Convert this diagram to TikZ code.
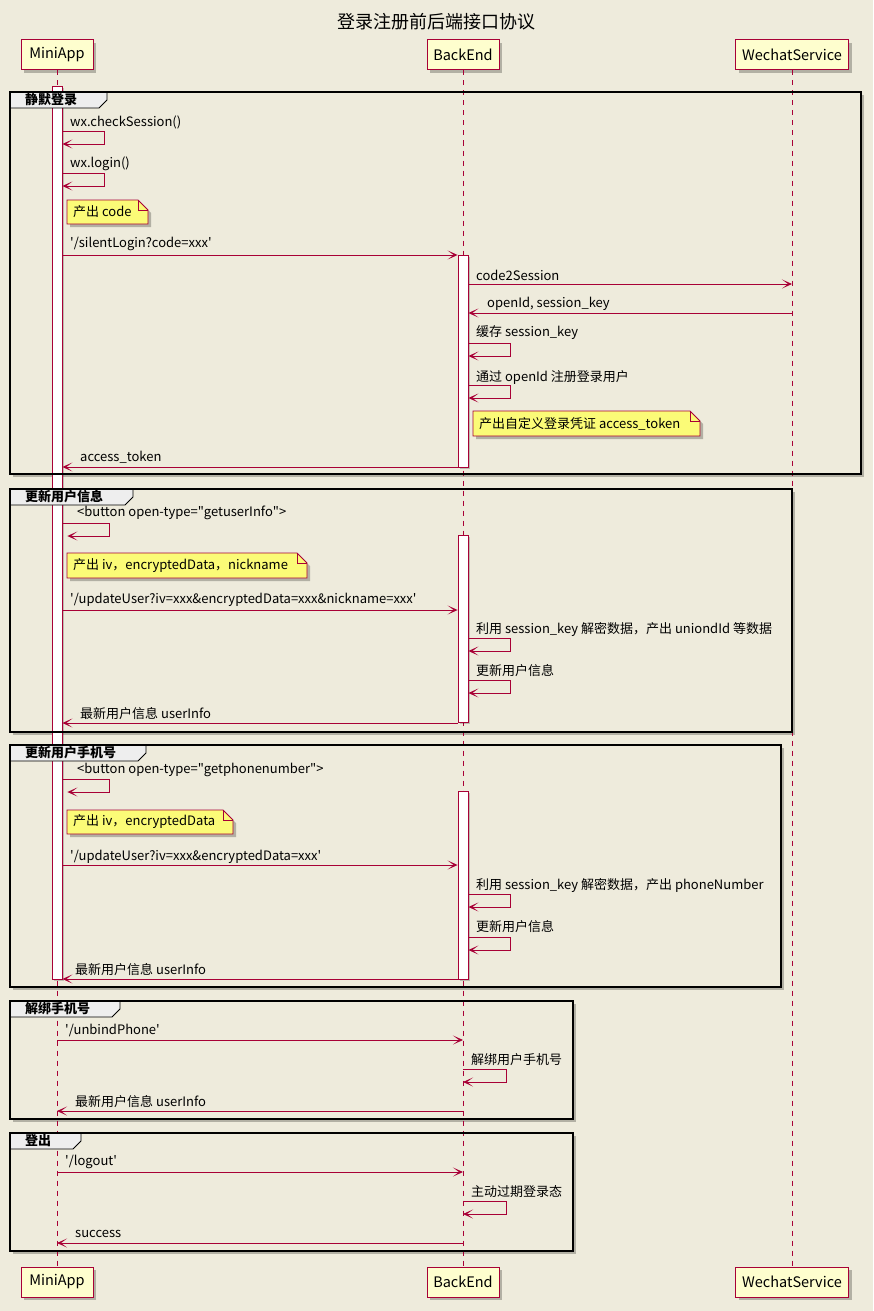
\documentclass[tikz,border=0pt]{standalone}
\usepackage{fontspec}
\setmainfont{Noto Sans CJK SC}
\usetikzlibrary{arrows.meta,shadows,positioning}

\definecolor{umlred}{HTML}{A80036}
\definecolor{partfill}{HTML}{FEFECE}
\definecolor{notefill}{HTML}{FBFB77}
\definecolor{bgcol}{HTML}{EEEBDC}
\definecolor{grphead}{HTML}{EEEEEE}

\newcommand{\msgsize}{\fontsize{13}{15}\selectfont}
\newcommand{\sq}{\textquotesingle}
\newcommand{\dq}{\textquotedbl}

\tikzset{
  participant/.style={draw=umlred, fill=partfill, line width=1pt, minimum height=30pt,
    inner xsep=6pt, font=\fontsize{14.5}{17}\selectfont,
    drop shadow={shadow xshift=3pt, shadow yshift=-3pt, opacity=0.25, fill=black}},
  lifeline/.style={umlred, line width=0.8pt, dash pattern=on 5pt off 5pt},
  actbar/.style={draw=umlred, fill=white, line width=0.8pt, minimum width=10pt, inner sep=0pt,
    drop shadow={shadow xshift=2pt, shadow yshift=-2pt, opacity=0.2, fill=black}},
  msg/.style={umlred, line width=0.9pt, -{Stealth[length=10pt,width=9pt,inset=6pt]}},
  lbl/.style={anchor=west, inner sep=0pt, font=\msgsize},
  grp/.style={draw=black, line width=1.6pt},
  grptab/.style={draw=black, fill=grphead, line width=0.8pt},
  grplbl/.style={anchor=west, inner sep=0pt, font=\msgsize\bfseries},
  notebox/.style={draw=umlred, fill=notefill, line width=0.8pt,
    drop shadow={shadow xshift=3pt, shadow yshift=-3pt, opacity=0.25, fill=black}}
}

% back of a group: x0, y0, x1, y1
\newcommand{\umlgroupbg}[4]{%
  \fill[bgcol, drop shadow={shadow xshift=3pt, shadow yshift=-3pt, opacity=0.25, fill=black}] (#1,#2) rectangle (#3,#4);
}
% frame of a group: x0, y0, x1, y1, tab end, node name, label
\newcommand{\umlgroup}[7]{%
  \draw[grptab] (#1,#2) -- (#5,#2) -- (#5,#2+8) -- (#5-8,#2+16) -- (#1,#2+16) -- cycle;
  \node[grplbl] (#6) at (#1+15,#2+8) {#7};
  \draw[grp] (#1,#2) rectangle (#3,#4);
}

% note with folded corner: x0, y0, x1, y1
\newcommand{\umlnote}[4]{%
  \draw[notebox] (#1,#2) -- (#3-10,#2) -- (#3,#2+10) -- (#3,#4) -- (#1,#4) -- cycle;
  \draw[umlred, line width=0.8pt] (#3-10,#2) -- (#3-10,#2+10) -- (#3,#2+10);
}

\begin{document}
\begin{tikzpicture}[x=1pt,y=-1pt]
\fill[bgcol] (0,0) rectangle (873,1311);
\useasboundingbox (0,0) rectangle (873,1311);

\node[font=\fontsize{18}{21}\selectfont] (title) at (436,22) {登录注册前后端接口协议};

% groups, back
\umlgroupbg{10}{92}{861}{474}
\umlgroupbg{10}{489}{792}{732}
\umlgroupbg{10}{745}{781}{987}
\umlgroupbg{10}{1001}{573}{1119}
\umlgroupbg{10}{1133}{573}{1251}

% participants
\node[participant, minimum width=72pt] (maT) at (57,55) {MiniApp};
\node[participant, minimum width=72pt] (beT) at (463,55) {BackEnd};
\node[participant, minimum width=113pt] (wsT) at (792,55) {WechatService};
\node[participant, minimum width=72pt] (maB) at (57,1282) {MiniApp};
\node[participant, minimum width=72pt] (beB) at (463,1282) {BackEnd};
\node[participant, minimum width=113pt] (wsB) at (792,1282) {WechatService};

\draw[lifeline] (maT) -- (maB);
\draw[lifeline] (beT) -- (beB);
\draw[lifeline] (wsT) -- (wsB);

% activations
\node[actbar, anchor=north, minimum height=893pt] (actA) at (57,86) {};
\node[actbar, anchor=north, minimum height=212pt] (actB1) at (463,255) {};
\node[actbar, anchor=north, minimum height=187pt] (actB2) at (463,535) {};
\node[actbar, anchor=north, minimum height=188pt] (actB3) at (463,791) {};

% groups, frame
\umlgroup{10}{92}{861}{474}{107}{g1}{静默登录}
\umlgroup{10}{489}{792}{732}{133}{g2}{更新用户信息}
\umlgroup{10}{745}{781}{987}{146}{g3}{更新用户手机号}
\umlgroup{10}{1001}{573}{1119}{120}{g4}{解绑手机号}
\umlgroup{10}{1133}{573}{1251}{81}{g5}{登出}

% 静默登录
\node[lbl] (m1) at (70,122) {wx.checkSession()};
\draw[msg] (actA.east |- 0,131) -- ++(42,0) -- ++(0,13) -- (actA.east |- 0,144);
\node[lbl] (m2) at (70,164) {wx.login()};
\draw[msg] (actA.east |- 0,173) -- ++(42,0) -- ++(0,13) -- (actA.east |- 0,186);
\umlnote{67}{200}{148}{224}
\node[lbl] (n1) at (73,212) {产出 code};
\node[lbl] (m3) at (70,244) {\sq/silentLogin?code=xxx\sq};
\draw[msg] (actA.east |- 0,255) -- (actB1.west |- 0,255);
\node[lbl] (m4) at (476,275) {code2Session};
\draw[msg] (actB1.east |- 0,284) -- (wsT |- 0,284);
\node[lbl] (m5) at (487,304) {openId, session\_key};
\draw[msg] (wsT |- 0,313) -- (actB1.east |- 0,313);
\node[lbl] (m6) at (476,333) {缓存 session\_key};
\draw[msg] (actB1.east |- 0,343) -- ++(42,0) -- ++(0,13) -- (actB1.east |- 0,356);
\node[lbl] (m7) at (476,377) {通过 openId 注册登录用户};
\draw[msg] (actB1.east |- 0,385) -- ++(42,0) -- ++(0,13) -- (actB1.east |- 0,398);
\umlnote{473}{411}{700}{436}
\node[lbl] (n2) at (479,424) {产出自定义登录凭证 access\_token};
\node[lbl] (m8) at (80,457) {access\_token};
\draw[msg] (actB1.west |- 0,467) -- (actA.east |- 0,467);

% 更新用户信息
\node[lbl] (m9) at (77,513) {<button open-type=\dq getuserInfo\dq>};
\draw[msg] (actA.east |- 0,523) -- ++(47,0) -- ++(0,13) -- ++(-42,0);
\umlnote{67}{553}{307}{578}
\node[lbl] (n3) at (73,566) {产出 iv，encryptedData，nickname};
\node[lbl] (m10) at (70,600) {\sq/updateUser?iv=xxx\&encryptedData=xxx\&nickname=xxx\sq};
\draw[msg] (actA.east |- 0,610) -- (actB2.west |- 0,610);
\node[lbl] (m11) at (476,629) {利用 session\_key 解密数据，产出 uniondId 等数据};
\draw[msg] (actB2.east |- 0,638) -- ++(42,0) -- ++(0,13) -- (actB2.east |- 0,651);
\node[lbl] (m12) at (476,671) {更新用户信息};
\draw[msg] (actB2.east |- 0,680) -- ++(42,0) -- ++(0,13) -- (actB2.east |- 0,693);
\node[lbl] (m13) at (80,714) {最新用户信息 userInfo};
\draw[msg] (actB2.west |- 0,723) -- (actA.east |- 0,723);

% 更新用户手机号
\node[lbl] (m14) at (77,770) {<button open-type=\dq getphonenumber\dq>};
\draw[msg] (actA.east |- 0,779) -- ++(47,0) -- ++(0,13) -- ++(-42,0);
\umlnote{67}{810}{233}{834}
\node[lbl] (n4) at (73,822) {产出 iv，encryptedData};
\node[lbl] (m15) at (70,857) {\sq/updateUser?iv=xxx\&encryptedData=xxx\sq};
\draw[msg] (actA.east |- 0,865) -- (actB3.west |- 0,865);
\node[lbl] (m16) at (476,885) {利用 session\_key 解密数据，产出 phoneNumber};
\draw[msg] (actB3.east |- 0,894) -- ++(42,0) -- ++(0,13) -- (actB3.east |- 0,907);
\node[lbl] (m17) at (476,927) {更新用户信息};
\draw[msg] (actB3.east |- 0,937) -- ++(42,0) -- ++(0,13) -- (actB3.east |- 0,950);
\node[lbl] (m18) at (75,970) {最新用户信息 userInfo};
\draw[msg] (actB3.west |- 0,979) -- (actA.east |- 0,979);

% 解绑手机号
\node[lbl] (m19) at (65,1030) {\sq/unbindPhone\sq};
\draw[msg] (maT |- 0,1040) -- (beT |- 0,1040);
\node[lbl] (m20) at (471,1060) {解绑用户手机号};
\draw[msg] (beT |- 0,1069) -- ++(43,0) -- ++(0,13) -- (beT |- 0,1082);
\node[lbl] (m21) at (75,1102) {最新用户信息 userInfo};
\draw[msg] (beT |- 0,1111) -- (maT |- 0,1111);

% 登出
\node[lbl] (m22) at (65,1162) {\sq/logout\sq};
\draw[msg] (maT |- 0,1172) -- (beT |- 0,1172);
\node[lbl] (m23) at (471,1192) {主动过期登录态};
\draw[msg] (beT |- 0,1201) -- ++(43,0) -- ++(0,13) -- (beT |- 0,1214);
\node[lbl] (m24) at (75,1234) {success};
\draw[msg] (beT |- 0,1243) -- (maT |- 0,1243);
\end{tikzpicture}
\end{document}
